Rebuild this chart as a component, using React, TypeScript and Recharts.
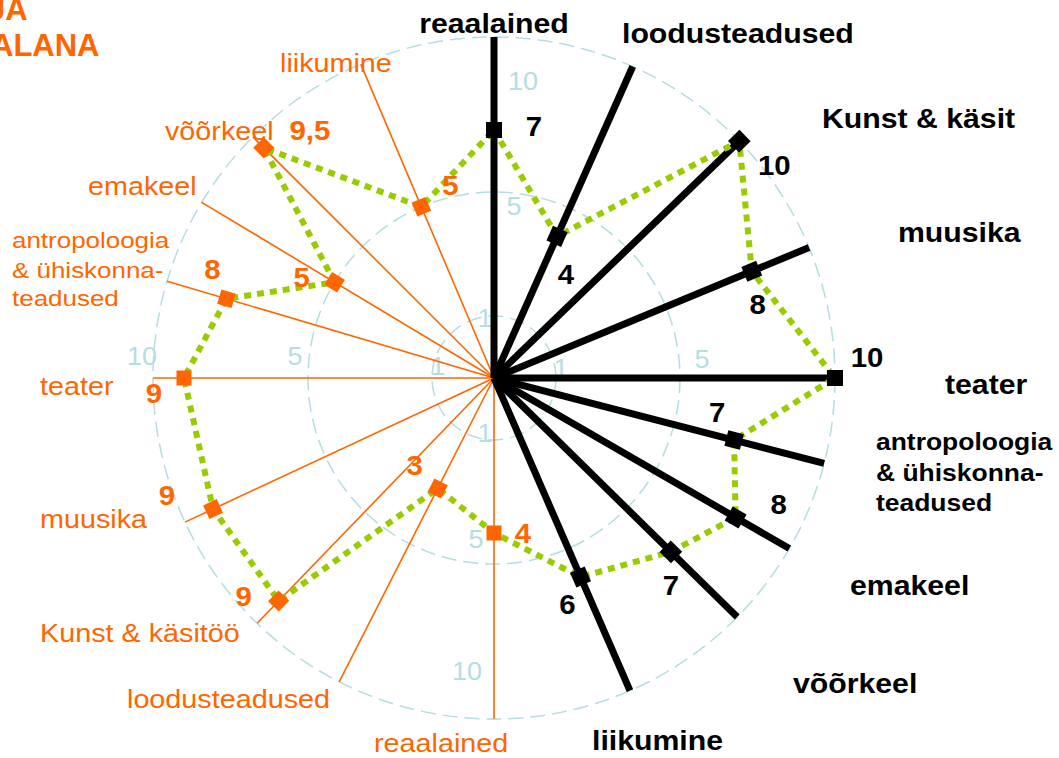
import { RadarChart, Radar, PolarGrid, PolarAngleAxis, PolarRadiusAxis } from 'recharts'

const CATEGORIES = [
  'reaalained',
  'loodusteadused',
  'Kunst & käsitöö',
  'muusika',
  'teater',
  'antropoloogia & ühiskonnateadused',
  'emakeel',
  'võõrkeel',
  'liikumine',
]
const RIGHT_VALUES = [7, 4, 10, 8, 10, 7, 8, 7, 6]
const LEFT_VALUES = [4, 3, 9, 9, 9, 8, 5, 9.5, 5]
const RING_VALUES = [1, 5, 10]

// where each category spoke sits, degrees clockwise from 12 o'clock
const RIGHT_ANGLES = [0, 24, 46, 67.5, 90, 104.5, 120, 134.5, 156.5]
const LEFT_ANGLES = [180, 207, 224, 245, 270, 286.5, 301, 315, 337]

const data = [
  ...CATEGORIES.map((name, i) => ({ name, side: 'right', angle: RIGHT_ANGLES[i], value: RIGHT_VALUES[i] })),
  ...CATEGORIES.map((name, i) => ({ name, side: 'left', angle: LEFT_ANGLES[i], value: LEFT_VALUES[i] })),
]

const W = 1059
const H = 758
const CX = 494
const CY = 378
const OUTER = 341
const ORANGE = '#ff6600'
const GREEN = '#99cc00'
const RING = '#b4dde4'
const FONT = '"Liberation Sans", Arial, Helvetica, sans-serif'

// value label offset from its marker
const VALUE_OFFSETS = [
  [40, -4], [9, 38], [35, 24], [6, 33], [32, -21], [-17, -28], [43, -14], [0, 33], [-13, 27],
  [29, 0], [-23, -23], [-35, -5], [-46, -14], [-30, 15], [-14, -30], [-33, -5], [46, -18], [29, -22],
]

// ring labels: offsets from centre (top, bottom, left, right)
const RING_LABEL_SPOTS: Record<number, number[][]> = {
  1: [[-9, -51], [-9, 64], [-56, -3], [67, -1]],
  5: [[20, -163], [-18, 170], [-199, -13], [208, -10]],
  10: [[29, -288], [-27, 302], [-352, -13]],
}

function Txt({ x, y, text, size, color, bold = false, anchor = 'start', sx = 1 }: {
  x: number
  y: number
  text: string
  size: number
  color: string
  bold?: boolean
  anchor?: 'start' | 'middle' | 'end'
  sx?: number
}) {
  return (
    <text
      transform={`translate(${x} ${y}) scale(${sx} 1)`}
      fontFamily={FONT}
      fontSize={size}
      fontWeight={bold ? 700 : 400}
      fill={color}
      textAnchor={anchor}
    >
      {text}
    </text>
  )
}

function RingTick(props: any) {
  const { x, y, payload } = props
  const v = payload?.value
  if (!RING_VALUES.includes(v)) return <g />
  const r = payload.coordinate
  const cx = x
  const cy = y + r
  return (
    <g>
      <circle cx={cx} cy={cy} r={r} fill="none" stroke={RING} strokeWidth={1.5} strokeDasharray="15 7" />
      {RING_LABEL_SPOTS[v].map(([dx, dy], i) => (
        <Txt key={i} x={cx + dx} y={cy + dy} text={String(v)} size={25} color={RING} anchor="middle" sx={1.08} />
      ))}
    </g>
  )
}

function Marker(props: any) {
  const { cx, cy, index } = props
  const d = data[index]
  const right = d.side === 'right'
  const s = right ? 16 : 15
  return (
    <rect
      key={`m-${index}`}
      x={cx - s / 2}
      y={cy - s / 2}
      width={s}
      height={s}
      fill={right ? '#000' : ORANGE}
      transform={`rotate(${d.angle} ${cx} ${cy})`}
    />
  )
}

function ValueLabel(props: any) {
  const { cx, cy, index } = props
  const d = data[index]
  const [dx, dy] = VALUE_OFFSETS[index]
  return (
    <g key={`v-${index}`}>
      <Txt
        x={cx + dx}
        y={cy + dy + 10}
        text={String(d.value).replace('.', ',')}
        size={28}
        bold
        color={d.side === 'right' ? '#000' : ORANGE}
        anchor="middle"
        sx={1.05}
      />
    </g>
  )
}

export default function App() {
  return (
    <div style={{ position: 'absolute', left: 0, top: 0, width: W, height: H, background: '#fff', overflow: 'hidden' }}>
      <RadarChart
        width={W}
        height={H}
        data={data}
        cx={CX}
        cy={CY}
        outerRadius={OUTER}
        margin={{ top: 0, right: 0, bottom: 0, left: 0 }}
      >
        <PolarRadiusAxis
          angle={90}
          type="number"
          domain={[-1, 10]}
          tickCount={12}
          allowDataOverflow
          axisLine={false}
          tick={RingTick}
          zIndex={-200}
        />
        <PolarGrid
          gridType="circle"
          polarRadius={[0]}
          polarAngles={LEFT_ANGLES.map((a) => 90 - a)}
          outerRadius={OUTER * 0.945}
          stroke={ORANGE}
          strokeWidth={1.6}
        />
        <PolarGrid
          gridType="circle"
          polarRadius={[0]}
          polarAngles={RIGHT_ANGLES.map((a) => 90 - a)}
          stroke="#000"
          strokeWidth={7}
        />
        <PolarAngleAxis
          type="number"
          dataKey="angle"
          domain={[0, 360]}
          tickCount={5}
          allowDataOverflow
          tick={false}
          tickLine={false}
          axisLine={false}
        />
        <Radar
          dataKey="value"
          stroke="none"
          fill="none"
          dot={Marker}
          isAnimationActive={false}
          zIndex={100}
        />
        <Radar
          dataKey="value"
          stroke={GREEN}
          strokeWidth={6}
          strokeDasharray="7 6"
          fill="none"
          dot={false}
          isAnimationActive={false}
          zIndex={101}
        />
        <Radar
          dataKey="value"
          stroke="none"
          fill="none"
          dot={ValueLabel}
          isAnimationActive={false}
          zIndex={102}
        />
      </RadarChart>

      <svg width={W} height={H} style={{ position: 'absolute', left: 0, top: 0, pointerEvents: 'none' }}>
        <Txt x={-12} y={20} text="JA" size={31} bold color={ORANGE} />
        <Txt x={-9} y={56} text="ALANA" size={31} bold color={ORANGE} />

        <Txt x={494} y={33} text="reaalained" size={28} bold color="#000" anchor="middle" sx={1.08} />
        <Txt x={622} y={43} text="loodusteadused" size={28} bold color="#000" sx={1.08} />
        <Txt x={822} y={128} text="Kunst & käsit" size={28} bold color="#000" sx={1.08} />
        <Txt x={898} y={242} text="muusika" size={28} bold color="#000" sx={1.08} />
        <Txt x={945} y={394} text="teater" size={28} bold color="#000" sx={1.08} />
        <Txt x={876} y={450} text="antropoloogia" size={24.5} bold color="#000" sx={1.08} />
        <Txt x={876} y={481} text="& ühiskonna-" size={24.5} bold color="#000" sx={1.08} />
        <Txt x={876} y={511} text="teadused" size={24.5} bold color="#000" sx={1.08} />
        <Txt x={850} y={595} text="emakeel" size={28} bold color="#000" sx={1.08} />
        <Txt x={793} y={693} text="võõrkeel" size={28} bold color="#000" sx={1.08} />
        <Txt x={592} y={750} text="liikumine" size={28} bold color="#000" sx={1.08} />

        <Txt x={280} y={72} text="liikumine" size={25} color={ORANGE} sx={1.15} />
        <Txt x={165} y={140} text="võõrkeel" size={25} color={ORANGE} sx={1.15} />
        <Txt x={88} y={195} text="emakeel" size={25} color={ORANGE} sx={1.15} />
        <Txt x={12} y={248} text="antropoloogia" size={22} color={ORANGE} sx={1.18} />
        <Txt x={12} y={278} text="& ühiskonna-" size={22} color={ORANGE} sx={1.18} />
        <Txt x={12} y={306} text="teadused" size={22} color={ORANGE} sx={1.18} />
        <Txt x={40} y={395} text="teater" size={25} color={ORANGE} sx={1.15} />
        <Txt x={40} y={528} text="muusika" size={25} color={ORANGE} sx={1.15} />
        <Txt x={40} y={642} text="Kunst & käsitöö" size={25} color={ORANGE} sx={1.15} />
        <Txt x={127} y={708} text="loodusteadused" size={25} color={ORANGE} sx={1.15} />
        <Txt x={374} y={752} text="reaalained" size={25} color={ORANGE} sx={1.15} />
      </svg>
    </div>
  )
}
